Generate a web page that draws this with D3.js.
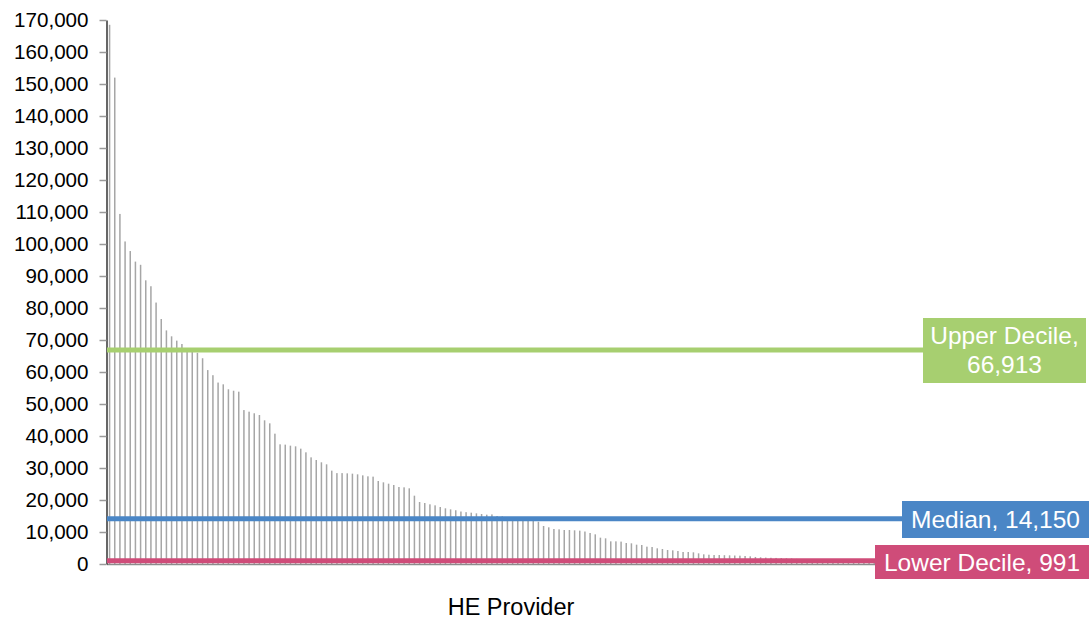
<!DOCTYPE html>
<html>
<head>
<meta charset="utf-8">
<script src="https://cdn.jsdelivr.net/npm/d3@7"></script>
<style>
  html, body { margin: 0; padding: 0; background: #fff; }
  svg { display: block; font-family: "Liberation Sans", Arial, sans-serif; }
</style>
</head>
<body>
<svg id="chart" width="1091" height="621"></svg>
<script>
// Students per HE provider, sorted descending
const values = [
  168500, 152000, 109400, 100800, 97800, 94500, 93500, 88650, 86800, 81700,
  76560, 73000, 71150, 69800, 68750, 67200, 66626, 66000, 64300, 60600,
  59000, 56700, 56150, 54600, 54150, 53850, 48100, 47600, 47100, 46560,
  44900, 43960, 40730, 37400, 37300, 36980, 36770, 36040, 34900, 33330,
  32500, 31780, 31150, 29170, 28400, 28400, 28330, 28230, 28020, 27700,
  27400, 27300, 25940, 25520, 25100, 24690, 24060, 23960, 23650, 21350,
  19375, 19060, 18650, 18330, 17810, 17400, 17080, 16800, 16400, 16200,
  16040, 15830, 15625, 15420, 15500, 15000, 14900, 14300, 14000, 13900,
  13750, 13600, 13450, 13220, 11875, 11460, 10940, 10830, 10625, 10625,
  10520, 10420, 10150, 9690, 9270, 8230, 8020, 7080, 7080, 7000,
  6560, 6460, 6040, 5940, 5420, 5310, 4900, 4690, 4375, 4270,
  4060, 3750, 3750, 3650, 3330, 3020, 2900, 2800, 2800, 2750,
  2700, 2650, 2600, 2500, 2400, 2200, 2100, 2000, 1950, 1900,
  1850, 1800, 1750, 1600, 1500, 1420, 1350, 1300, 1200, 1100,
  882, 820, 750, 690, 620, 560, 500, 440, 380, 320,
  260, 200, 150, 100, 60, 20
];
const providers = values.map((_, i) => "P" + (i + 1));
const yTicks = [0, 10000, 20000, 30000, 40000, 50000, 60000, 70000, 80000,
  90000, 100000, 110000, 120000, 130000, 140000, 150000, 160000, 170000];
const refNames = ["Upper Decile", "Median", "Lower Decile"];
const refValues = [66913, 14150, 991];
const refColors = ["#a7cf70", "#4a86c6", "#cf4c79"];
const xTitle = "HE Provider";

const svg = d3.select("#chart");
const plotLeft = 107, plotRight = 913, plotTop = 20, plotBottom = 564;

const y = d3.scaleLinear().domain([0, 170000]).range([plotBottom, plotTop]);
const x = d3.scaleBand().domain(providers).range([plotLeft, plotRight]).padding(0);

// bars
svg.append("g").selectAll("rect").data(values).join("rect")
  .attr("x", (d, i) => x(providers[i]) + x.bandwidth() / 2 - 0.75)
  .attr("width", 1.5)
  .attr("y", d => y(d))
  .attr("height", d => plotBottom - y(d))
  .attr("fill", "#a6a6a6");

// x axis line
svg.append("line")
  .attr("x1", plotLeft).attr("x2", plotRight)
  .attr("y1", plotBottom + 0.5).attr("y2", plotBottom + 0.5)
  .attr("stroke", "#8c8c8c").attr("stroke-width", 1.5);

// y axis
const yAxis = svg.append("g")
  .attr("transform", `translate(${plotLeft - 0.5},0)`)
  .call(d3.axisLeft(y).tickValues(yTicks).tickFormat(d3.format(","))
    .tickSize(7).tickSizeOuter(0).tickPadding(11));
yAxis.select(".domain").attr("stroke", "#000").attr("stroke-width", 1.2);
yAxis.selectAll(".tick line").attr("stroke", "#9a9a9a").attr("stroke-width", 1.5);
yAxis.selectAll(".tick text")
  .attr("font-size", 20.6).attr("fill", "#000")
  .attr("font-family", "'Liberation Sans', Arial, sans-serif");

// x title
svg.append("text")
  .attr("x", 511).attr("y", 615)
  .attr("text-anchor", "middle")
  .attr("font-size", 23.5).attr("fill", "#000")
  .text(xTitle);

// reference lines and labels
const boxes = [
  { left: 923, right: 1086, top: 318, bottom: 383,
    lines: [refNames[0] + ",", d3.format(",")(refValues[0])], baselines: [344, 373] },
  { left: 902, right: 1089, top: 501, bottom: 538,
    lines: [refNames[1] + ", " + d3.format(",")(refValues[1])], baselines: [528] },
  { left: 875, right: 1089, top: 545, bottom: 579,
    lines: [refNames[2] + ", " + d3.format(",")(refValues[2])], baselines: [571] }
];

refValues.forEach((v, i) => {
  const b = boxes[i];
  svg.append("line")
    .attr("x1", plotLeft).attr("x2", b.left + 2)
    .attr("y1", y(v)).attr("y2", y(v))
    .attr("stroke", refColors[i]).attr("stroke-width", 5);
  svg.append("rect")
    .attr("x", b.left).attr("y", b.top)
    .attr("width", b.right - b.left).attr("height", b.bottom - b.top)
    .attr("fill", refColors[i]);
  const cx = (b.left + b.right) / 2;
  b.lines.forEach((t, k) => {
    svg.append("text")
      .attr("x", cx).attr("y", b.baselines[k])
      .attr("text-anchor", "middle")
      .attr("font-size", 24.5).attr("fill", "#fff")
      .text(t);
  });
});
</script>
</body>
</html>
